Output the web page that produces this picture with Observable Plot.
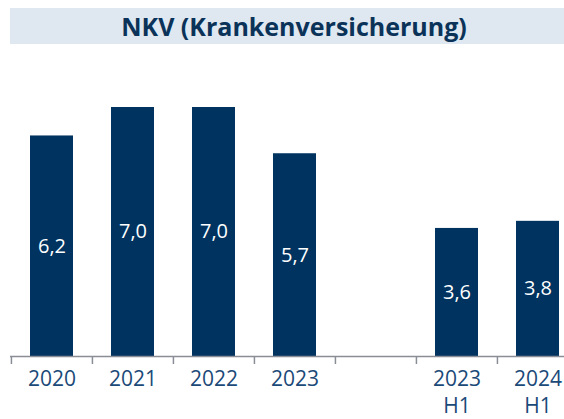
<!DOCTYPE html>
<html><head><meta charset="utf-8">
<script src="https://cdn.jsdelivr.net/npm/d3@7"></script>
<script src="https://cdn.jsdelivr.net/npm/@observablehq/plot@0.6"></script>
<style>
body{margin:0;background:#fff;}
#wrap{position:relative;width:564px;height:419px;overflow:hidden;}
#title{position:absolute;left:10px;top:8px;width:568px;height:36px;background:#dfe8f0;color:#0b3359;font-family:"Open Sans";font-weight:700;font-size:25px;text-align:center;line-height:36px;}
#chart{position:absolute;left:0;top:0;width:578px;}
#chart svg{max-width:none !important;}
</style></head><body>
<div id="wrap"><div id="chart"></div><div id="title">NKV (Krankenversicherung)</div></div>
<script>
const categories = ["2020","2021","2022","2023","gap","2023 H1","2024 H1"];
const values = [6.2, 7.0, 7.0, 5.7, null, 3.6, 3.8];
const valueLabels = ["6,2","7,0","7,0","5,7","","3,6","3,8"];
const tickLabels = ["2020","2021","2022","2023","","2023\nH1","2024\nH1"];

const W = 578, H = 419, mL = 10, mR = 0, mT = 107, mB = 63;
const step = (W - mL - mR) / categories.length;
const yMax = 7;
const unit = (H - mT - mB) / yMax;
const tickLen = 8;

const data = categories.map((c, i) => ({c, v: values[i], label: valueLabels[i]})).filter(d => d.v != null);
const ticks = categories.map((c, i) => ({c, t: tickLabels[i]}));

const chart = Plot.plot({
  width: W, height: H,
  marginLeft: mL, marginRight: mR, marginTop: mT, marginBottom: mB,
  x: {domain: categories, paddingInner: 0.47, paddingOuter: 0.235, axis: null},
  y: {domain: [0, yMax], axis: null},
  style: {fontFamily: "Open Sans", background: "transparent", overflow: "visible", maxWidth: "none"},
  marks: [
    Plot.barY(data, {x: "c", y: "v", fill: "#00335f"}),
    Plot.text(data, {x: "c", y: d => d.v / 2, text: "label", fill: "white", fontSize: 20}),
    Plot.ruleY([0], {stroke: "#8a8d96", strokeWidth: 1.5}),
    Plot.ruleX(categories, {x: d => d, dx: -step / 2, y1: 0, y2: -tickLen / unit, stroke: "#8a8d96", strokeWidth: 1.5}),
    Plot.text(ticks, {x: "c", text: "t", frameAnchor: "bottom", lineAnchor: "top", dy: 10,
      fontSize: 21, fill: "#1b4a78", lineHeight: 1.3})
  ]
});
document.getElementById("chart").appendChild(chart);
</script>
</body></html>
